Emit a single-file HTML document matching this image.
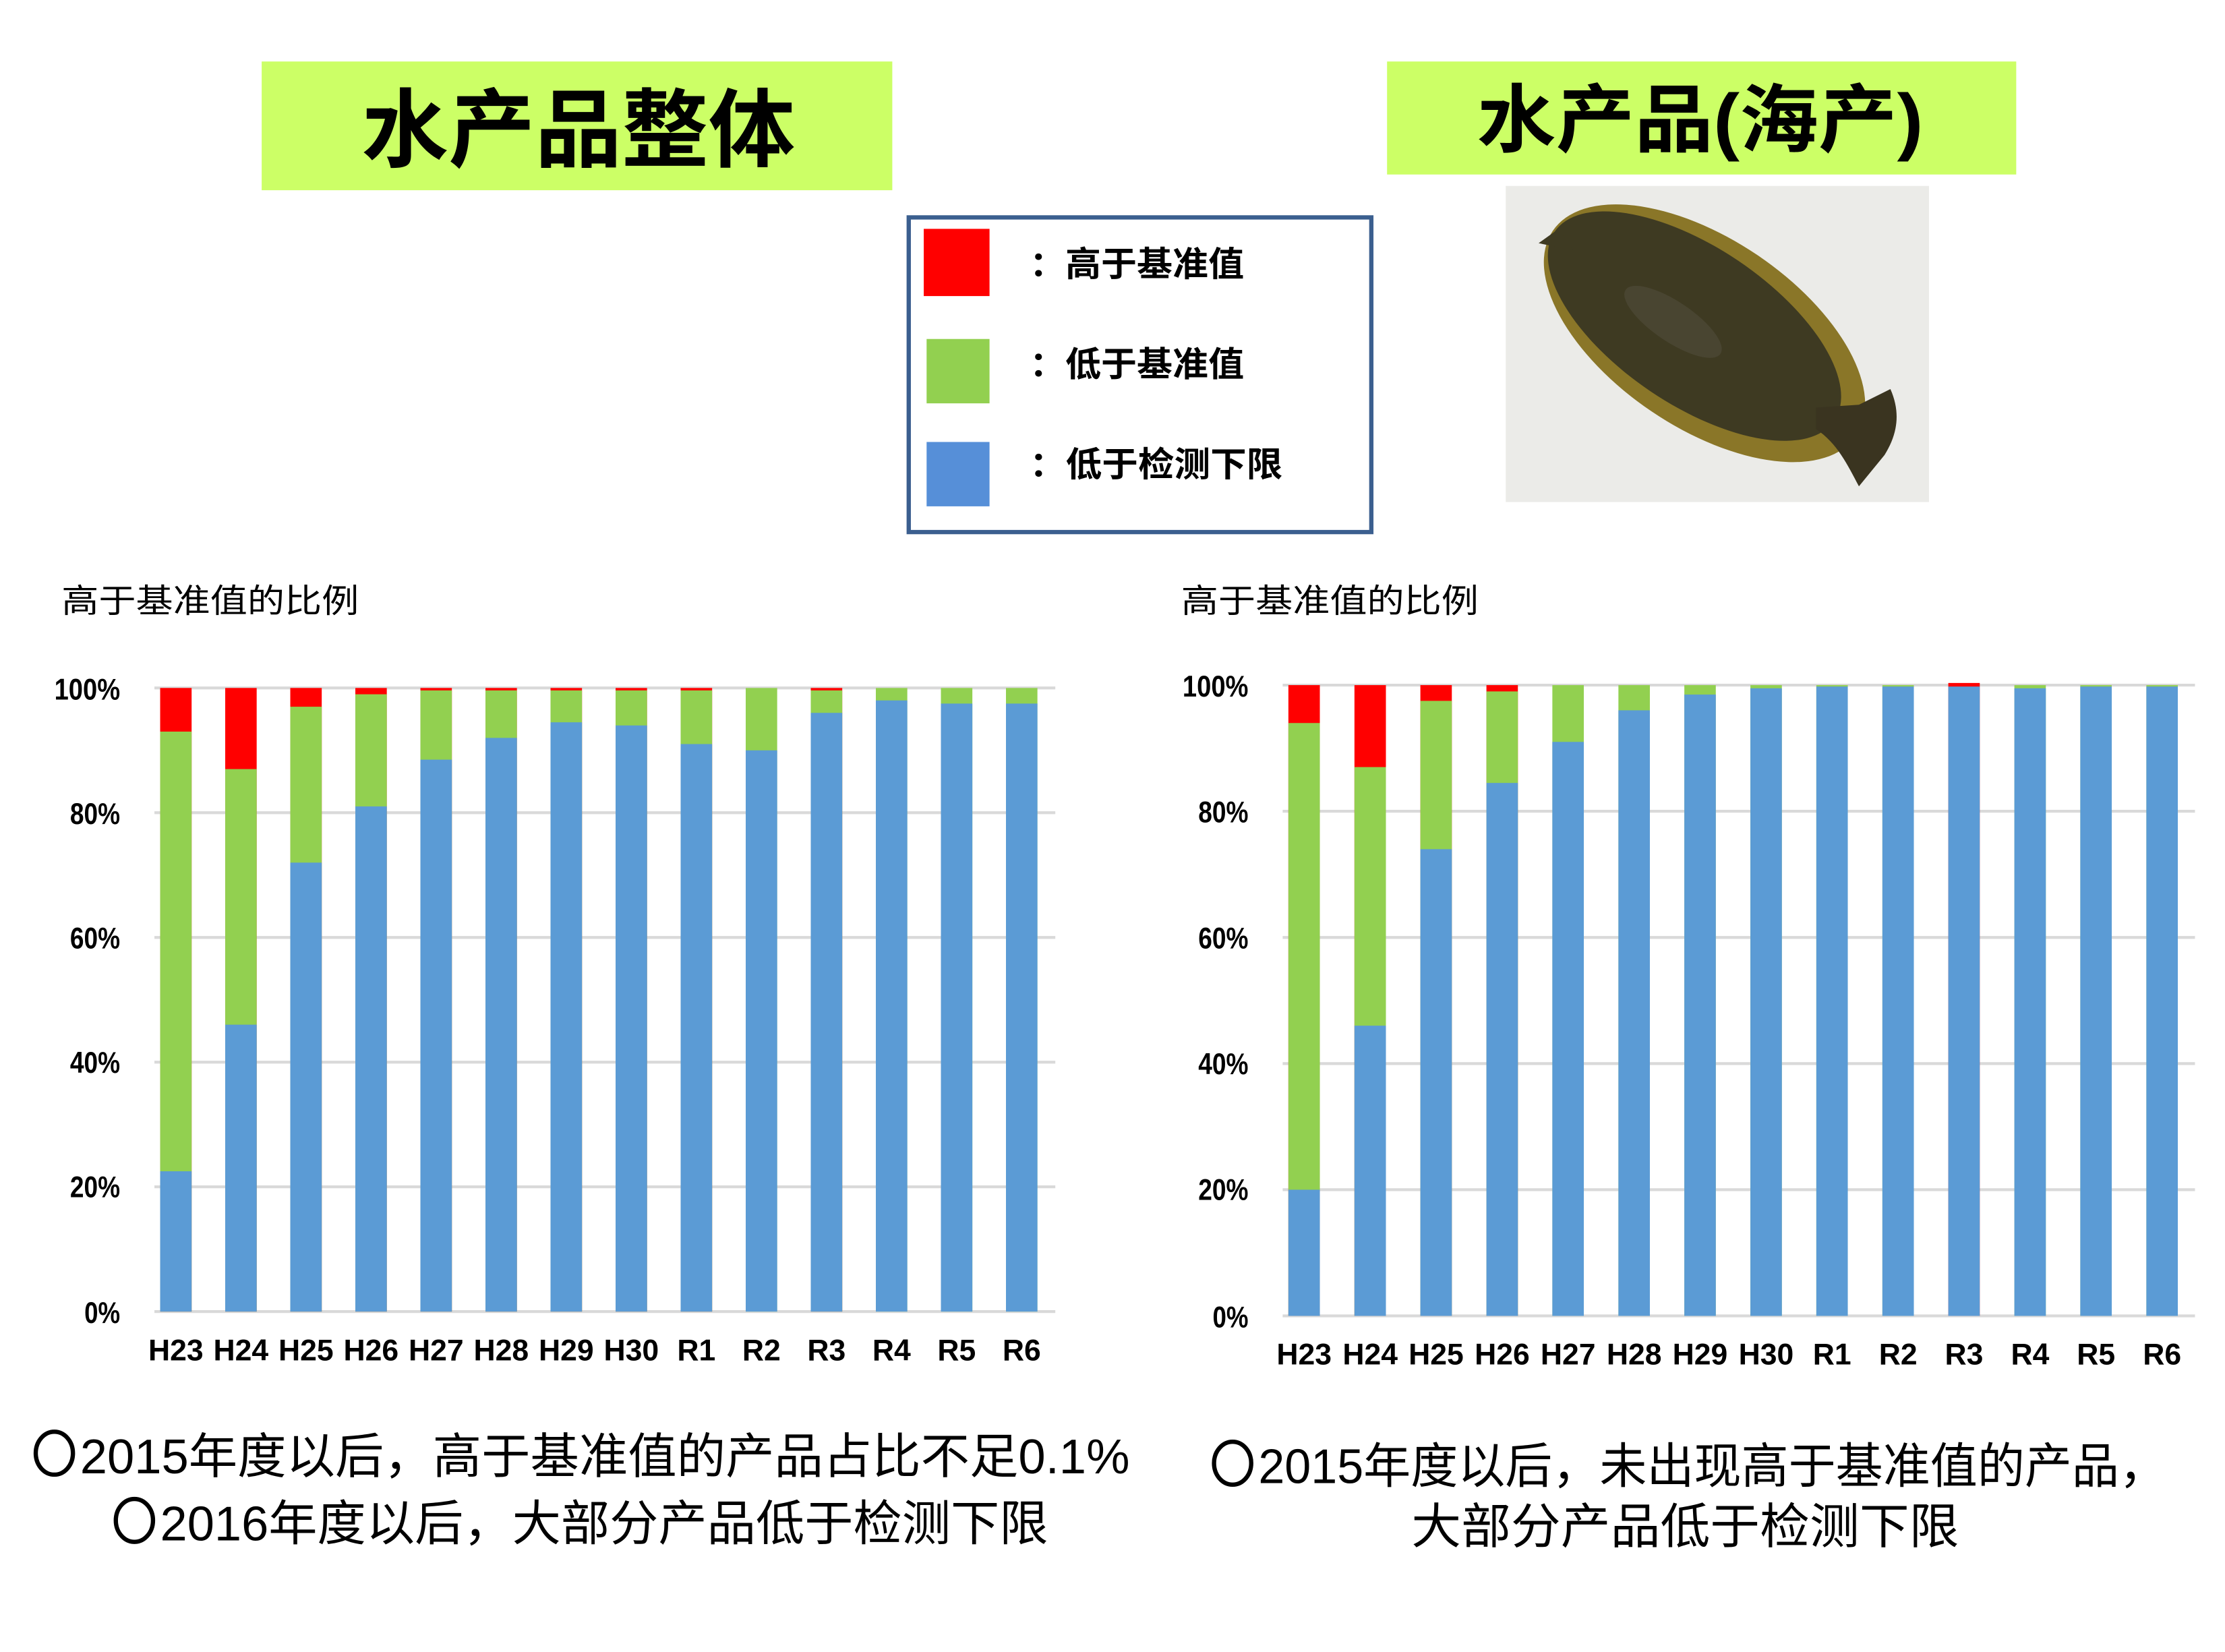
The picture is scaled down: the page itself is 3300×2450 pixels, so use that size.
<!DOCTYPE html>
<html><head><meta charset="utf-8"><style>html,body{margin:0;padding:0;background:#fff}svg{display:block}</style></head>
<body>
<svg width="3300" height="2450" viewBox="0 0 1556 1155" preserveAspectRatio="none" xmlns="http://www.w3.org/2000/svg" font-family="'Liberation Sans','Noto Sans CJK SC',sans-serif">
<rect width="1556" height="1155" fill="#fff"/>
<!-- titles -->
<rect x="183" y="43" width="441" height="90" fill="#ccff66"/>
<text x="253" y="112" font-size="60" font-weight="bold" textLength="303" lengthAdjust="spacingAndGlyphs">水产品整体</text>
<rect x="970" y="43" width="440" height="79" fill="#ccff66"/>
<text x="1033" y="102" font-size="52" font-weight="bold" textLength="312" lengthAdjust="spacingAndGlyphs">水产品(海产)</text>
<!-- legend -->
<rect x="635.5" y="152" width="323.5" height="220" fill="#fff" stroke="#3b5f8f" stroke-width="3"/>
<rect x="646" y="160" width="46" height="47" fill="#ff0000"/>
<rect x="648" y="237" width="44" height="45" fill="#92d050"/>
<rect x="648" y="309" width="44" height="45" fill="#568fd8"/>
<g font-size="24" font-weight="bold">
<text x="720" y="193" textLength="150" lengthAdjust="spacingAndGlyphs">：高于基准值</text>
<text x="720" y="263" textLength="150" lengthAdjust="spacingAndGlyphs">：低于基准值</text>
<text x="720" y="333" textLength="177" lengthAdjust="spacingAndGlyphs">：低于检测下限</text>
</g>
<!-- fish -->
<rect x="1053" y="130" width="296" height="221" fill="#ebebe8"/>
<g>
<ellipse cx="1192" cy="233" rx="128" ry="66" transform="rotate(34 1192 233)" fill="#8a7628"/>
<ellipse cx="1185" cy="228" rx="118" ry="55" transform="rotate(34 1185 228)" fill="#3e3a22"/>
<path d="M1270,285 L1300,283 L1322,272 C1330,290 1326,305 1318,318 L1300,340 C1292,325 1285,310 1270,300 Z" fill="#3a3420"/>
<path d="M1076,170 L1090,160 L1100,175 Z" fill="#3e3a22"/>
<ellipse cx="1170" cy="225" rx="40" ry="14" transform="rotate(34 1170 225)" fill="#4e4a38" opacity="0.7"/>
</g>
<!-- subtitles -->
<text x="43" y="428" font-size="23" textLength="208" lengthAdjust="spacingAndGlyphs">高于基准值的比例</text>
<text x="826" y="428" font-size="23" textLength="208" lengthAdjust="spacingAndGlyphs">高于基准值的比例</text>
<!-- grid -->
<g stroke="#d9d9d9" stroke-width="2">
<line x1="108" y1="481" x2="738" y2="481"/><line x1="108" y1="568.2" x2="738" y2="568.2"/><line x1="108" y1="655.4" x2="738" y2="655.4"/><line x1="108" y1="742.6" x2="738" y2="742.6"/><line x1="108" y1="829.8" x2="738" y2="829.8"/><line x1="108" y1="917" x2="738" y2="917"/>
<line x1="897" y1="479" x2="1535" y2="479"/><line x1="897" y1="567.2" x2="1535" y2="567.2"/><line x1="897" y1="655.4" x2="1535" y2="655.4"/><line x1="897" y1="743.6" x2="1535" y2="743.6"/><line x1="897" y1="831.8" x2="1535" y2="831.8"/><line x1="897" y1="920" x2="1535" y2="920"/>
</g>
<g font-size="21" font-weight="bold" text-anchor="end">
<text x="84" y="489" textLength="46" lengthAdjust="spacingAndGlyphs">100%</text><text x="84" y="576" textLength="35" lengthAdjust="spacingAndGlyphs">80%</text><text x="84" y="663" textLength="35" lengthAdjust="spacingAndGlyphs">60%</text><text x="84" y="750" textLength="35" lengthAdjust="spacingAndGlyphs">40%</text><text x="84" y="837" textLength="35" lengthAdjust="spacingAndGlyphs">20%</text><text x="84" y="925" textLength="25" lengthAdjust="spacingAndGlyphs">0%</text>
<text x="873" y="487" textLength="46" lengthAdjust="spacingAndGlyphs">100%</text><text x="873" y="575" textLength="35" lengthAdjust="spacingAndGlyphs">80%</text><text x="873" y="663" textLength="35" lengthAdjust="spacingAndGlyphs">60%</text><text x="873" y="751" textLength="35" lengthAdjust="spacingAndGlyphs">40%</text><text x="873" y="839" textLength="35" lengthAdjust="spacingAndGlyphs">20%</text><text x="873" y="928" textLength="25" lengthAdjust="spacingAndGlyphs">0%</text>
</g>
<!-- left bars -->
<g>
<g fill="#ff0000">
<rect x="112" y="481" width="22" height="436"/><rect x="157.5" y="481" width="22" height="436"/><rect x="203" y="481" width="22" height="436"/><rect x="248.5" y="481" width="22" height="436"/><rect x="294" y="481" width="22" height="436"/><rect x="339.5" y="481" width="22" height="436"/><rect x="385" y="481" width="22" height="436"/><rect x="430.5" y="481" width="22" height="436"/><rect x="476" y="481" width="22" height="436"/><rect x="567" y="481" width="22" height="436"/>
</g>
<g fill="#92d050">
<rect x="112" y="511.5" width="22" height="405.5"/><rect x="157.5" y="537.7" width="22" height="379.3"/><rect x="203" y="494.1" width="22" height="422.9"/><rect x="248.5" y="485.4" width="22" height="431.6"/><rect x="294" y="482.7" width="22" height="434.3"/><rect x="339.5" y="482.7" width="22" height="434.3"/><rect x="385" y="482.7" width="22" height="434.3"/><rect x="430.5" y="482.7" width="22" height="434.3"/><rect x="476" y="482.7" width="22" height="434.3"/><rect x="521.5" y="481" width="22" height="436"/><rect x="567" y="482.7" width="22" height="434.3"/><rect x="612.5" y="481" width="22" height="436"/><rect x="658" y="481" width="22" height="436"/><rect x="703.5" y="481" width="22" height="436"/>
</g>
<g fill="#5b9bd5">
<rect x="112" y="818.9" width="22" height="98.1"/><rect x="157.5" y="716.4" width="22" height="200.6"/><rect x="203" y="603.1" width="22" height="313.9"/><rect x="248.5" y="563.8" width="22" height="353.2"/><rect x="294" y="531.1" width="22" height="385.9"/><rect x="339.5" y="515.9" width="22" height="401.1"/><rect x="385" y="505" width="22" height="412"/><rect x="430.5" y="507.2" width="22" height="409.8"/><rect x="476" y="520.2" width="22" height="396.8"/><rect x="521.5" y="524.6" width="22" height="392.4"/><rect x="567" y="498.4" width="22" height="418.6"/><rect x="612.5" y="489.7" width="22" height="427.3"/><rect x="658" y="491.9" width="22" height="425.1"/><rect x="703.5" y="491.9" width="22" height="425.1"/>
</g>
</g>
<!-- right bars -->
<g>
<g fill="#ff0000">
<rect x="901" y="479" width="22" height="441"/><rect x="947.2" y="479" width="22" height="441"/><rect x="993.3" y="479" width="22" height="441"/><rect x="1039.5" y="479" width="22" height="441"/><rect x="1362.5" y="477.5" width="22" height="442.5"/>
</g>
<g fill="#92d050">
<rect x="901" y="505.5" width="22" height="414.5"/><rect x="947.2" y="536.3" width="22" height="383.7"/><rect x="993.3" y="490" width="22" height="430"/><rect x="1039.5" y="483.4" width="22" height="436.6"/><rect x="1085.6" y="479" width="22" height="441"/><rect x="1131.8" y="479" width="22" height="441"/><rect x="1177.9" y="479" width="22" height="441"/><rect x="1224.1" y="479" width="22" height="441"/><rect x="1270.2" y="479" width="22" height="441"/><rect x="1316.4" y="479" width="22" height="441"/><rect x="1408.7" y="479" width="22" height="441"/><rect x="1454.8" y="479" width="22" height="441"/><rect x="1501" y="479" width="22" height="441"/>
</g>
<g fill="#5b9bd5">
<rect x="901" y="831.8" width="22" height="88.2"/><rect x="947.2" y="717.1" width="22" height="202.9"/><rect x="993.3" y="593.7" width="22" height="326.3"/><rect x="1039.5" y="547.4" width="22" height="372.6"/><rect x="1085.6" y="518.7" width="22" height="401.3"/><rect x="1131.8" y="496.6" width="22" height="423.4"/><rect x="1177.9" y="485.6" width="22" height="434.4"/><rect x="1224.1" y="481.2" width="22" height="438.8"/><rect x="1270.2" y="480" width="22" height="440"/><rect x="1316.4" y="480" width="22" height="440"/><rect x="1362.5" y="480" width="22" height="440"/><rect x="1408.7" y="481.2" width="22" height="438.8"/><rect x="1454.8" y="480" width="22" height="440"/><rect x="1501" y="480" width="22" height="440"/>
</g>
</g>
<!-- x labels -->
<g font-size="21" font-weight="bold" text-anchor="middle">
<text x="123" y="951">H23</text><text x="168.5" y="951">H24</text><text x="214" y="951">H25</text><text x="259.5" y="951">H26</text><text x="305" y="951">H27</text><text x="350.5" y="951">H28</text><text x="396" y="951">H29</text><text x="441.5" y="951">H30</text><text x="487" y="951">R1</text><text x="532.5" y="951">R2</text><text x="578" y="951">R3</text><text x="623.5" y="951">R4</text><text x="669" y="951">R5</text><text x="714.5" y="951">R6</text>
<text x="912" y="954">H23</text><text x="958.2" y="954">H24</text><text x="1004.3" y="954">H25</text><text x="1050.5" y="954">H26</text><text x="1096.6" y="954">H27</text><text x="1142.8" y="954">H28</text><text x="1188.9" y="954">H29</text><text x="1235.1" y="954">H30</text><text x="1281.2" y="954">R1</text><text x="1327.4" y="954">R2</text><text x="1373.5" y="954">R3</text><text x="1419.7" y="954">R4</text><text x="1465.8" y="954">R5</text><text x="1512" y="954">R6</text>
</g>
<!-- bottom text -->
<g fill="none" stroke="#000" stroke-width="3">
<ellipse cx="38" cy="1016" rx="13" ry="15"/>
<ellipse cx="94" cy="1063" rx="13" ry="15"/>
<ellipse cx="862" cy="1023" rx="13" ry="15"/>
</g>
<g font-size="34">
<text x="56" y="1030" textLength="734" lengthAdjust="spacingAndGlyphs">2015年度以后，高于基准值的产品占比不足0.1%</text>
<text x="112" y="1077" textLength="621" lengthAdjust="spacingAndGlyphs">2016年度以后，大部分产品低于检测下限</text>
<text x="880" y="1037" textLength="635" lengthAdjust="spacingAndGlyphs">2015年度以后，未出现高于基准值的产品，</text>
<text x="987" y="1079" textLength="383" lengthAdjust="spacingAndGlyphs">大部分产品低于检测下限</text>
</g>
</svg>
</body></html>
